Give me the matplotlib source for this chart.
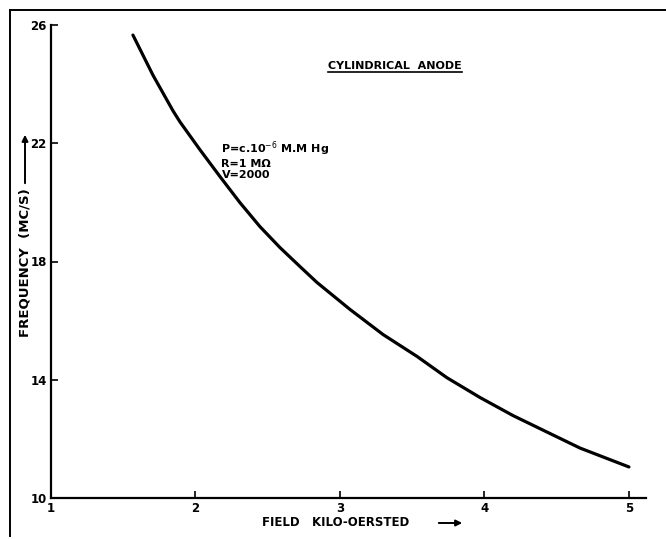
import numpy as np
import matplotlib
matplotlib.use("Agg")
import matplotlib.pyplot as plt
from matplotlib.lines import Line2D
from matplotlib.patches import FancyArrowPatch

# curve
field = [1.567, 1.706, 1.844, 1.893, 2.031, 2.170, 2.308, 2.446, 2.585, 2.723,
         2.841, 3.069, 3.298, 3.533, 3.740, 3.969, 4.197, 4.433, 4.661, 5.000]
freq = [25.66, 24.30, 23.10, 22.72, 21.78, 20.87, 19.99, 19.18, 18.47, 17.83,
        17.29, 16.38, 15.53, 14.79, 14.07, 13.40, 12.79, 12.23, 11.69, 11.05]

xticks = [1, 2, 3, 4, 5]
yticks = [10, 14, 18, 22, 26]

W, H = 666, 539
fig = plt.figure(figsize=(W / 100, H / 100), dpi=100)
ax = fig.add_axes([51 / W, 1 - 498 / H, (646 - 51) / W, (498 - 25) / H])

ax.plot(field, freq, color="black", lw=2.3, solid_capstyle="round",
        solid_joinstyle="round")
ax.set_xlim(1, 5.118)
ax.set_ylim(10, 26)
ax.set_xticks(xticks)
ax.set_yticks(yticks)
ax.set_xticklabels([str(v) for v in xticks], fontsize=8.5, fontweight="bold")
ax.set_yticklabels([str(v) for v in yticks], fontsize=8.5, fontweight="bold")
ax.tick_params(direction="in", length=5, width=1.2, pad=3)
for s in ["top", "right"]:
    ax.spines[s].set_visible(False)
for s in ["left", "bottom"]:
    ax.spines[s].set_linewidth(1.6)

# title (underlined) and conditions
title = ax.text(3.38, 24.62, "CYLINDRICAL  ANODE", ha="center", va="center",
                fontsize=8, fontweight="bold")
ax.text(2.18, 21.45, "P=c.10$^{-6}$ M.M Hg\nR=1 M\u03a9\nV=2000",
        ha="left", va="center", fontsize=8, fontweight="bold", linespacing=1.15)

fig.canvas.draw()
bb = title.get_window_extent().transformed(fig.transFigure.inverted())
fig.add_artist(Line2D([bb.x0, bb.x1], [bb.y0 - 0.002, bb.y0 - 0.002],
                      color="black", lw=1.2, transform=fig.transFigure))

# axis labels with arrows
fig.text(262 / W, 1 - 523 / H, "FIELD   KILO-OERSTED", ha="left", va="center",
         fontsize=8.5, fontweight="bold")
fig.add_artist(FancyArrowPatch(
    (436 / W, 1 - 523 / H), (465 / W, 1 - 523 / H), transform=fig.transFigure,
    arrowstyle="-|>", mutation_scale=9, lw=1.4, color="black"))
fig.text(25 / W, 1 - 188 / H, "FREQUENCY  (MC/S)", ha="center", va="top",
         rotation=90, fontsize=9.5, fontweight="bold")
fig.add_artist(FancyArrowPatch(
    (25 / W, 1 - 186 / H), (25 / W, 1 - 132 / H), transform=fig.transFigure,
    arrowstyle="-|>", mutation_scale=9, lw=1.4, color="black"))

# outer frame of the scanned sheet
fig.add_artist(Line2D([10 / W, 1], [1 - 10 / H, 1 - 10 / H], color="black",
                      lw=1.4, transform=fig.transFigure))
fig.add_artist(Line2D([10 / W, 10 / W], [1 - 10 / H, 1 - 536 / H], color="black",
                      lw=1.4, transform=fig.transFigure))

fig.savefig("out.png", dpi=100)
